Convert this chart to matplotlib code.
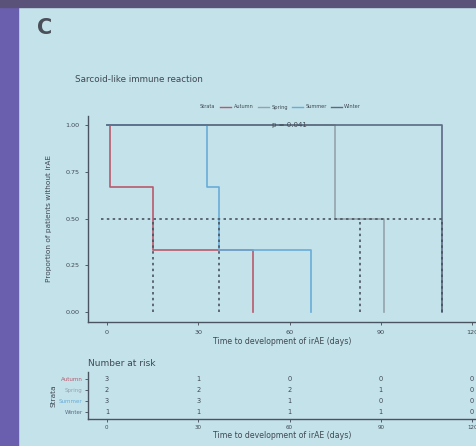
import matplotlib.pyplot as plt
from matplotlib.lines import Line2D
from matplotlib.patches import Rectangle

# survival curves (step values)
groups = ["Autumn", "Spring", "Summer", "Winter"]
autumn_t = [0, 1, 15, 48]
autumn_s = [1.0, 0.667, 0.333, 0.0]
spring_t = [0, 75, 91]
spring_s = [1.0, 0.5, 0.0]
summer_t = [0, 33, 37, 67]
summer_s = [1.0, 0.667, 0.333, 0.0]
winter_t = [0, 110]
winter_s = [1.0, 0.0]
medians = [15, 83, 37, 110]

# number at risk table
risk_times = [0, 30, 60, 90, 120]
risk_autumn = [3, 1, 0, 0, 0]
risk_spring = [2, 2, 2, 1, 0]
risk_summer = [3, 3, 1, 0, 0]
risk_winter = [1, 1, 1, 1, 0]

colors = {"Autumn": "#b85a6c", "Spring": "#93a3ab", "Summer": "#68acd8", "Winter": "#5a6a82"}
txt = "#3f4852"
bg = "#c4e2ea"

W, H = 477, 446
fig = plt.figure(figsize=(W / 100, H / 100), dpi=100)
fig.patch.set_facecolor(bg)


def box(x0, y0, x1, y1):
    # pixel box (top-left origin) -> figure fraction rect
    return [x0 / W, 1 - y1 / H, (x1 - x0) / W, (y1 - y0) / H]


# purple frame of the projected slide
fig.patches.append(Rectangle((0, 0), 18 / W, 1, transform=fig.transFigure, color="#6a5fae", zorder=-1))
fig.patches.append(Rectangle((0, 1 - 7 / H), 1, 7 / H, transform=fig.transFigure, color="#5b527a", zorder=-1))

fig.text(37 / W, 1 - 28 / H, "C", fontsize=15, fontweight="bold", color="#4a4f5a", va="center")
fig.text(75 / W, 1 - 80 / H, "Sarcoid-like immune reaction", fontsize=6.3, color=txt, va="center")

# main KM plot
ax = fig.add_axes(box(88, 115.6, 477, 322))
ax.set_facecolor(bg)
curves = [(autumn_t, autumn_s, "Autumn"), (spring_t, spring_s, "Spring"),
          (summer_t, summer_s, "Summer"), (winter_t, winter_s, "Winter")]
for t, s, g in curves:
    ax.step(t, s, where="post", color=colors[g], lw=1.2)

ax.hlines(0.5, -2, max(medians), colors="#4a5360", linestyles=(0, (1.5, 2)), lw=1.2)
ax.vlines(medians, 0, 0.5, colors="#4a5360", linestyles=(0, (1.5, 2)), lw=1.2)
ax.text(60, 1.0, "p = 0.041", fontsize=5, color=txt, ha="center", va="center")

ax.set_xlim(-6.2, 121.6)
ax.set_ylim(-0.053, 1.05)
ax.set_xticks(risk_times)
ax.set_yticks([0, 0.25, 0.5, 0.75, 1.0])
ax.set_yticklabels(["0.00", "0.25", "0.50", "0.75", "1.00"])
ax.set_xlabel("Time to development of irAE (days)", fontsize=5.6, color=txt, labelpad=1)
ax.set_ylabel("Proportion of patients without irAE", fontsize=5.3, color=txt, labelpad=10)
for side in ["top", "right"]:
    ax.spines[side].set_visible(False)
for side in ["left", "bottom"]:
    ax.spines[side].set_color("#4a5360")
    ax.spines[side].set_linewidth(1.0)
ax.tick_params(labelsize=4.6, colors=txt, length=2, width=0.6, pad=4)

handles = [Line2D([], [], color=colors[g], lw=1.0) for g in groups]
fig.text(200 / W, 1 - 107 / H, "Strata", fontsize=3.6, color=txt, va="center")
fig.legend(handles, groups, loc="center left", bbox_to_anchor=(216 / W, 1 - 107 / H), ncol=4,
           frameon=False, fontsize=3.6, handlelength=2.2, handletextpad=0.5, columnspacing=0.8,
           labelcolor=txt)

# risk table
fig.text(88 / W, 1 - 363 / H, "Number at risk", fontsize=6.5, color=txt, va="center")
rt = fig.add_axes(box(88, 372.4, 477, 419))
rt.set_facecolor(bg)
rows = [risk_autumn, risk_spring, risk_summer, risk_winter]
ypos = [4, 3, 2, 1]
for row, y in zip(rows, ypos):
    for t, n in zip(risk_times, row):
        rt.text(t, y, str(n), fontsize=4.8, color=txt, ha="center", va="center")
rt.set_xlim(-6.2, 121.6)
rt.set_ylim(0.36, 4.6)
rt.set_xticks(risk_times)
rt.set_yticks(ypos)
rt.set_yticklabels(groups)
rt.set_xlabel("Time to development of irAE (days)", fontsize=5.6, color=txt, labelpad=1)
rt.set_ylabel("Strata", fontsize=5.3, color=txt, labelpad=2)
for side in ["top", "right"]:
    rt.spines[side].set_visible(False)
for side in ["left", "bottom"]:
    rt.spines[side].set_color("#4a5360")
    rt.spines[side].set_linewidth(1.0)
rt.tick_params(labelsize=4, colors=txt, length=2, width=0.6, pad=2)
for lab, g in zip(rt.get_yticklabels(), groups):
    lab.set_color(colors[g])

fig.savefig("out.png", dpi=100, facecolor=fig.get_facecolor())
